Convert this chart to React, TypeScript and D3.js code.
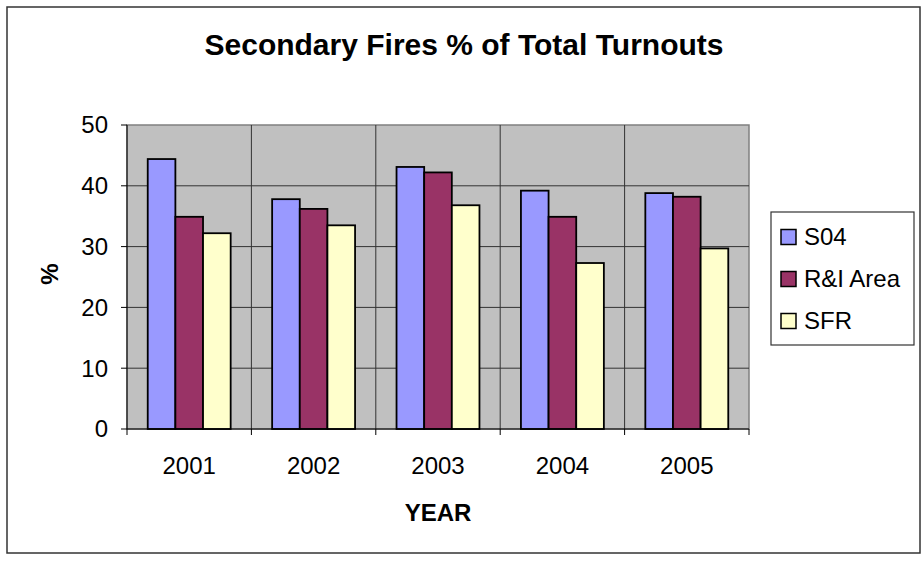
import React from "react";
import * as d3 from "d3";

const years = ["2001", "2002", "2003", "2004", "2005"];
const seriesNames = ["S04", "R&I Area", "SFR"];
const s04 = [44.4, 37.8, 43.1, 39.2, 38.8];
const riArea = [34.9, 36.2, 42.2, 34.9, 38.2];
const sfr = [32.2, 33.5, 36.8, 27.3, 29.7];
const seriesColors = ["#9999FF", "#993366", "#FFFFCC"];
const yTicks = [0, 10, 20, 30, 40, 50];

const W = 923;
const H = 561;
const plot = { left: 127, right: 749, top: 125, bottom: 429 };
const FONT = "'Liberation Sans', Arial, sans-serif";

export default function App() {
  const seriesValues = [s04, riArea, sfr];

  const x = d3
    .scaleBand<string>()
    .domain(years)
    .range([plot.left, plot.right])
    .paddingInner(0)
    .paddingOuter(0);

  // Excel-style gap: 150% of a bar width split on both sides of the cluster
  const barW = x.bandwidth() / (seriesNames.length + 1.5);
  const x1 = d3
    .scaleBand<number>()
    .domain(d3.range(seriesNames.length))
    .range([0, barW * seriesNames.length]);
  const groupOffset = (x.bandwidth() - barW * seriesNames.length) / 2;

  const y = d3.scaleLinear().domain([0, 50]).range([plot.bottom, plot.top]);

  const boundaries = [...years.map((yr) => x(yr) as number), plot.right];

  return (
    <svg
      width={W}
      height={H}
      style={{ position: "absolute", left: 0, top: 0, background: "#fff" }}
      fontFamily={FONT}
    >
      {/* chart frame */}
      <rect x={7} y={7} width={913} height={546} fill="#fff" stroke="#333" strokeWidth={1.5} />

      {/* title */}
      <text x={464} y={55} textAnchor="middle" fontSize={30} fontWeight="bold" fill="#000">
        Secondary Fires % of Total Turnouts
      </text>

      {/* plot background */}
      <rect
        x={plot.left}
        y={plot.top}
        width={plot.right - plot.left}
        height={plot.bottom - plot.top}
        fill="#C0C0C0"
        stroke="#808080"
        strokeWidth={1.5}
      />

      {/* horizontal gridlines */}
      {yTicks.slice(1, -1).map((t) => (
        <line key={`hg${t}`} x1={plot.left} x2={plot.right} y1={y(t)} y2={y(t)} stroke="#333" strokeWidth={1} />
      ))}
      {/* vertical gridlines at category boundaries */}
      {boundaries.slice(1, -1).map((b, i) => (
        <line key={`vg${i}`} x1={b} x2={b} y1={plot.top} y2={plot.bottom} stroke="#333" strokeWidth={1} />
      ))}

      {/* bars */}
      {years.map((yr, gi) =>
        seriesValues.map((vals, si) => {
          const bx = (x(yr) as number) + groupOffset + (x1(si) as number);
          return (
            <rect
              key={`${yr}-${si}`}
              x={bx}
              y={y(vals[gi])}
              width={barW}
              height={y(0) - y(vals[gi])}
              fill={seriesColors[si]}
              stroke="#000"
              strokeWidth={1.8}
            />
          );
        })
      )}

      {/* axes */}
      <line x1={plot.left} x2={plot.left} y1={plot.top} y2={plot.bottom} stroke="#000" strokeWidth={1} />
      <line x1={plot.left} x2={plot.right} y1={plot.bottom} y2={plot.bottom} stroke="#000" strokeWidth={1} />
      {yTicks.map((t) => (
        <g key={`yt${t}`}>
          <line x1={plot.left - 6} x2={plot.left} y1={y(t)} y2={y(t)} stroke="#000" strokeWidth={1} />
          <text x={108} y={y(t)} dy="0.35em" textAnchor="end" fontSize={24} fill="#000">
            {t}
          </text>
        </g>
      ))}
      {boundaries.map((b, i) => (
        <line key={`xt${i}`} x1={b} x2={b} y1={plot.bottom} y2={plot.bottom + 6} stroke="#000" strokeWidth={1} />
      ))}
      {years.map((yr) => (
        <text
          key={`xl${yr}`}
          x={(x(yr) as number) + x.bandwidth() / 2}
          y={474}
          textAnchor="middle"
          fontSize={24}
          fill="#000"
        >
          {yr}
        </text>
      ))}

      {/* axis titles */}
      <text x={438} y={521} textAnchor="middle" fontSize={24} fontWeight="bold" fill="#000">
        YEAR
      </text>
      <text
        transform={`translate(50,274) rotate(-90)`}
        dy="0.35em"
        textAnchor="middle"
        fontSize={24}
        fontWeight="bold"
        fill="#000"
      >
        %
      </text>

      {/* legend */}
      <rect x={771} y={212} width={143} height={133} fill="#fff" stroke="#333" strokeWidth={1.2} />
      {seriesNames.map((name, i) => {
        const cy = 237 + i * 42;
        return (
          <g key={name}>
            <rect x={781} y={cy - 7.5} width={15} height={15} fill={seriesColors[i]} stroke="#000" strokeWidth={1.5} />
            <text x={804} y={cy} dy="0.35em" fontSize={24} fill="#000">
              {name}
            </text>
          </g>
        );
      })}
    </svg>
  );
}
